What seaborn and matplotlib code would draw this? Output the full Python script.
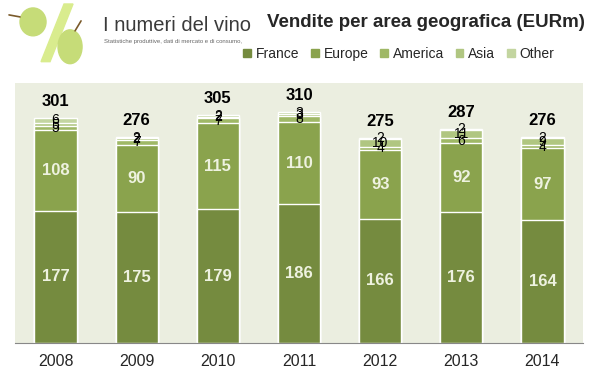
import numpy as np
import pandas as pd
import seaborn as sns
import matplotlib.pyplot as plt
from matplotlib.patches import Ellipse, Polygon

# Data
years = ['2008', '2009', '2010', '2011', '2012', '2013', '2014']
france = [177, 175, 179, 186, 166, 176, 164]
europe = [108, 90, 115, 110, 93, 92, 97]
america = [5, 7, 7, 8, 4, 6, 4]
asia = [5, 2, 2, 3, 10, 11, 9]
other = [6, 2, 2, 3, 2, 2, 2]
totals = [301, 276, 305, 310, 275, 287, 276]

series_names = ['France', 'Europe', 'America', 'Asia', 'Other']
series_vals = [france, europe, america, asia, other]
colors = ['#758B3F', '#8AA34D', '#9FB866', '#B0C681', '#C3D5A0']

sns.set_style('white')
plt.rcParams['font.family'] = ['Liberation Sans', 'DejaVu Sans']

fig = plt.figure(figsize=(5.98, 3.78), dpi=100)
ax = fig.add_axes([0.025, 0.093, 0.95, 0.687])
ax.set_facecolor('#EBEEE0')

# stacked bars: draw cumulative heights from top layer down
cum = np.cumsum(np.array(series_vals), axis=0)
for i in range(len(series_names) - 1, -1, -1):
    df = pd.DataFrame({'year': years, 'val': cum[i]})
    sns.barplot(data=df, x='year', y='val', color=colors[i], width=0.52,
                edgecolor='white', linewidth=1.0, saturation=1, ax=ax)

# segment labels
for j in range(len(years)):
    base = 0
    for i, vals in enumerate(series_vals):
        v = vals[j]
        mid = base + v / 2
        if i < 2:
            ax.text(j, mid, str(v), ha='center', va='center', fontsize=12,
                    fontweight='bold', color='#EEF2E0')
        else:
            ax.text(j, mid, str(v), ha='center', va='center', fontsize=10,
                    color='black')
        base += v
    ax.text(j, totals[j] + 12, str(totals[j]), ha='center', va='bottom',
            fontsize=12, fontweight='bold', color='black')

ax.set_ylim(0, 348)
ax.set_xlim(-0.5, 6.5)
ax.set_yticks([])
ax.set_xlabel('')
ax.set_ylabel('')
ax.tick_params(axis='x', length=0, labelsize=11.5, pad=8)
for s in ['top', 'right', 'left']:
    ax.spines[s].set_visible(False)
ax.spines['bottom'].set_color('#888888')

# title and legend
fig.text(0.713, 0.94, 'Vendite per area geografica (EURm)', ha='center', va='center',
         fontsize=13.5, fontweight='bold')
handles = [plt.Rectangle((0, 0), 1, 1, color=c) for c in colors]
fig.legend(handles, series_names, loc='center', bbox_to_anchor=(0.667, 0.857),
           ncol=5, frameon=False, fontsize=10, handlelength=0.55, handleheight=0.55,
           handletextpad=0.35, columnspacing=0.85)

# logo
lax = fig.add_axes([0, 0.8, 0.42, 0.2])
lax.set_xlim(0, 251)
lax.set_ylim(76, 0)
lax.axis('off')
lax.add_patch(Polygon([[64, 4], [73, 4], [50, 62], [41, 62]], closed=True,
                      color='#D9EC8E'))
lax.add_patch(Ellipse((33, 22), 26, 28, color='#C6DC78'))
lax.add_patch(Ellipse((70, 47), 24, 34, color='#C6DC78'))
lax.plot([20, 9], [17, 15], color='#7A5A2A', lw=1.2)
lax.plot([75, 81], [31, 21], color='#7A5A2A', lw=1.2)
lax.text(103, 26, 'I numeri del vino', fontsize=14.5, color='#3A3A3A',
         va='center', ha='left')
lax.text(104, 42, 'Statistiche produttive, dati di mercato e di consumo,', fontsize=4.3,
         color='#666666', va='center', ha='left')

fig.savefig('out.png', dpi=100)
